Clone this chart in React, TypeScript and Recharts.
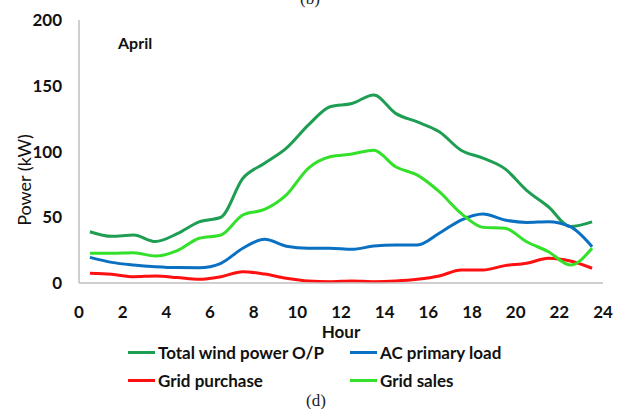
import { LineChart, Line, XAxis, YAxis, Legend } from 'recharts';

const hours = [0.5, 1.5, 2.5, 3.5, 4.5, 5.5, 6.5, 7.5, 8.5, 9.5, 10.5, 11.5, 12.5, 13.5, 14.5, 15.5, 16.5, 17.5, 18.5, 19.5, 20.5, 21.5, 22.5, 23.5];
const windOutput = [39, 35.5, 36.5, 31.5, 37.5, 46.5, 50, 79.5, 91, 102.5, 120, 134, 136.5, 143, 129, 122.5, 115, 101, 95, 87, 70.5, 58, 43, 46.5];
const acLoad = [19.5, 15.7, 13.7, 12.4, 11.7, 11.6, 15, 26.4, 33.2, 28, 26.4, 26.4, 25.6, 28.1, 28.9, 28.9, 37.8, 47.9, 52.5, 47.9, 46.1, 46.6, 42.8, 27.6];
const gridPurchase = [7.4, 6.6, 4.8, 5.3, 4.1, 2.8, 4.8, 8.6, 6.8, 3.6, 1.5, 1, 1.5, 1, 1.5, 2.8, 5.3, 9.9, 9.9, 13.2, 15, 18.8, 16.7, 11.2];
const gridSales = [22.6, 22.6, 23, 20.5, 24.6, 34, 36.5, 51.7, 56, 67, 87.2, 96, 98.1, 101, 88.4, 82, 69.4, 53, 42.3, 41.6, 31.4, 23.8, 13.7, 26.4];
const xTicks = [0, 2, 4, 6, 8, 10, 12, 14, 16, 18, 20, 22, 24];
const yTicks = [0, 50, 100, 150, 200];
const seriesNames = ['Total wind power O/P', 'AC primary load', 'Grid purchase', 'Grid sales'];

const data = hours.map((h, i) => ({
  hour: h,
  wind: windOutput[i],
  load: acLoad[i],
  purchase: gridPurchase[i],
  sales: gridSales[i],
}));

const FONT = 'Lato, "Liberation Sans", sans-serif';
const tickStyle = { fill: '#111', fontSize: 17, fontWeight: 'bold' as const, fontFamily: FONT };

const renderLegend = (props: any) => {
  const items = [...(props.payload || [])].sort(
    (a: any, b: any) => seriesNames.indexOf(a.value) - seriesNames.indexOf(b.value)
  );
  const cols = [128, 350];
  // zero-height box so the legend reserves no room under the plot
  return (
    <div style={{ position: 'relative', width: 638, height: 0, overflow: 'visible' }}>
      {items.map((item: any, i: number) => (
        <div
          key={item.value}
          style={{
            position: 'absolute',
            left: cols[i % 2],
            top: Math.floor(i / 2) * 28,
            display: 'flex',
            alignItems: 'center',
            fontFamily: FONT,
            fontWeight: 'bold',
            fontSize: 17,
            color: '#111',
            whiteSpace: 'nowrap',
          }}
        >
          <span style={{ display: 'inline-block', width: 27, height: 3, background: item.color, marginRight: 3 }} />
          {item.value}
        </div>
      ))}
    </div>
  );
};

export default function App() {
  return (
    <div style={{ position: 'absolute', left: 0, top: 0, width: 638, height: 409, background: '#fff' }}>
      <LineChart width={638} height={409} data={data} margin={{ top: 20, right: 35, bottom: 96, left: 0 }}>
        <XAxis
          dataKey="hour"
          type="number"
          domain={[0, 24]}
          ticks={xTicks}
          tickLine={false}
          axisLine={{ stroke: '#bfbfbf', strokeWidth: 1.5 }}
          tick={tickStyle}
          tickMargin={17}
        />
        <YAxis
          width={79}
          domain={[0, 200]}
          ticks={yTicks}
          tickLine={false}
          axisLine={{ stroke: '#bfbfbf', strokeWidth: 1.5 }}
          tick={tickStyle}
          tickMargin={11}
        />
        <Legend content={renderLegend} wrapperStyle={{ position: 'absolute', left: 0, top: 342, width: 638, height: 0 }} />
        <Line type="monotone" dataKey="wind" name={seriesNames[0]} stroke="#1e9e52" strokeWidth={3} dot={false} isAnimationActive={false} />
        <Line type="monotone" dataKey="load" name={seriesNames[1]} stroke="#0a70c2" strokeWidth={3} dot={false} isAnimationActive={false} />
        <Line type="monotone" dataKey="purchase" name={seriesNames[2]} stroke="#ff1010" strokeWidth={3} dot={false} isAnimationActive={false} />
        <Line type="monotone" dataKey="sales" name={seriesNames[3]} stroke="#33e02a" strokeWidth={3} dot={false} isAnimationActive={false} />
      </LineChart>
      <div
        style={{
          position: 'absolute',
          left: 24,
          top: 180,
          transform: 'translate(-50%, -50%) rotate(-90deg)',
          fontFamily: FONT,
          fontSize: 18,
          color: '#111',
          whiteSpace: 'nowrap',
        }}
      >
        Power (kW)
      </div>
      <div style={{ position: 'absolute', left: 118, top: 33, fontFamily: FONT, fontWeight: 'bold', fontSize: 16, color: '#111' }}>April</div>
      <div style={{ position: 'absolute', left: 0, width: 682, top: 321, textAlign: 'center', fontFamily: FONT, fontWeight: 'bold', fontSize: 17, color: '#111' }}>Hour</div>
      <div style={{ position: 'absolute', left: 300, top: -11, fontFamily: '"Liberation Serif", serif', fontSize: 17, color: '#222' }}>(b)</div>
      <div style={{ position: 'absolute', left: 306, top: 391, fontFamily: '"Liberation Serif", serif', fontSize: 17, color: '#222' }}>(d)</div>
    </div>
  );
}
